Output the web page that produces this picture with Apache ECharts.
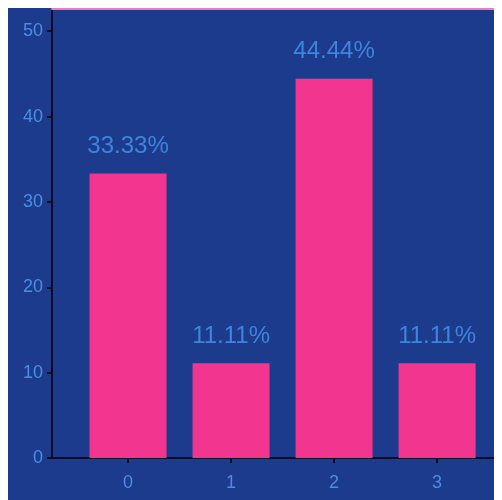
<!DOCTYPE html>
<html>
<head>
<meta charset="utf-8">
<script src="https://cdn.jsdelivr.net/npm/echarts@6/dist/echarts.min.js"></script>
<style>
  html, body { background: #ffffff; overflow: hidden; }
  body { margin: 8px; }
  #chart { width: 494px; height: 492px; }
</style>
</head>
<body>
<div id="chart"></div>
<script>
// Share of items in each group (percent)
const categories = [0, 1, 2, 3];
const shares = [33.33, 11.11, 44.44, 11.11];
const yTicks = [0, 10, 20, 30, 40, 50];

const labelBlue = '#3d84dc';
const axisInk = '#0b0d22';

const chart = echarts.init(document.getElementById('chart'));
chart.setOption({
  backgroundColor: '#1d3b8c',
  animation: false,
  grid: { left: 44, right: 0, top: 1, bottom: 42 },
  xAxis: [
    {
      type: 'value',
      min: -0.738,
      max: 3.63,
      splitLine: { show: false },
      axisLine: { show: true, onZero: false, lineStyle: { color: axisInk, width: 2 } },
      axisTick: { show: true, length: 5, customValues: categories, lineStyle: { color: axisInk, width: 2 } },
      axisLabel: {
        customValues: categories,
        color: '#4a8ee4',
        fontFamily: 'Liberation Sans',
        fontSize: 18,
        margin: 16
      }
    },
    {
      type: 'value',
      position: 'top',
      min: -0.738,
      max: 3.63,
      splitLine: { show: false },
      axisLine: { show: true, onZero: false, lineStyle: { color: '#f27ab8', width: 2 } },
      axisTick: { show: false },
      axisLabel: { show: false }
    }
  ],
  yAxis: {
    type: 'value',
    min: 0,
    max: 52.6,
    splitLine: { show: false },
    axisLine: { show: true, onZero: false, lineStyle: { color: axisInk, width: 2 } },
    axisTick: { show: true, length: 5, customValues: yTicks, lineStyle: { color: axisInk, width: 2 } },
    axisLabel: {
      customValues: yTicks,
      color: '#4a8ee4',
      fontFamily: 'Liberation Sans',
      fontSize: 18,
      margin: 9
    }
  },
  series: [{
    type: 'bar',
    xAxisIndex: 0,
    barWidth: 77,
    data: categories.map((c, i) => [c, shares[i]]),
    itemStyle: { color: '#f2368f' },
    label: {
      show: true,
      position: 'top',
      distance: 15,
      color: labelBlue,
      fontFamily: 'Liberation Sans',
      fontSize: 24,
      formatter: p => p.value[1].toFixed(2) + '%'
    }
  }]
});
</script>
</body>
</html>
